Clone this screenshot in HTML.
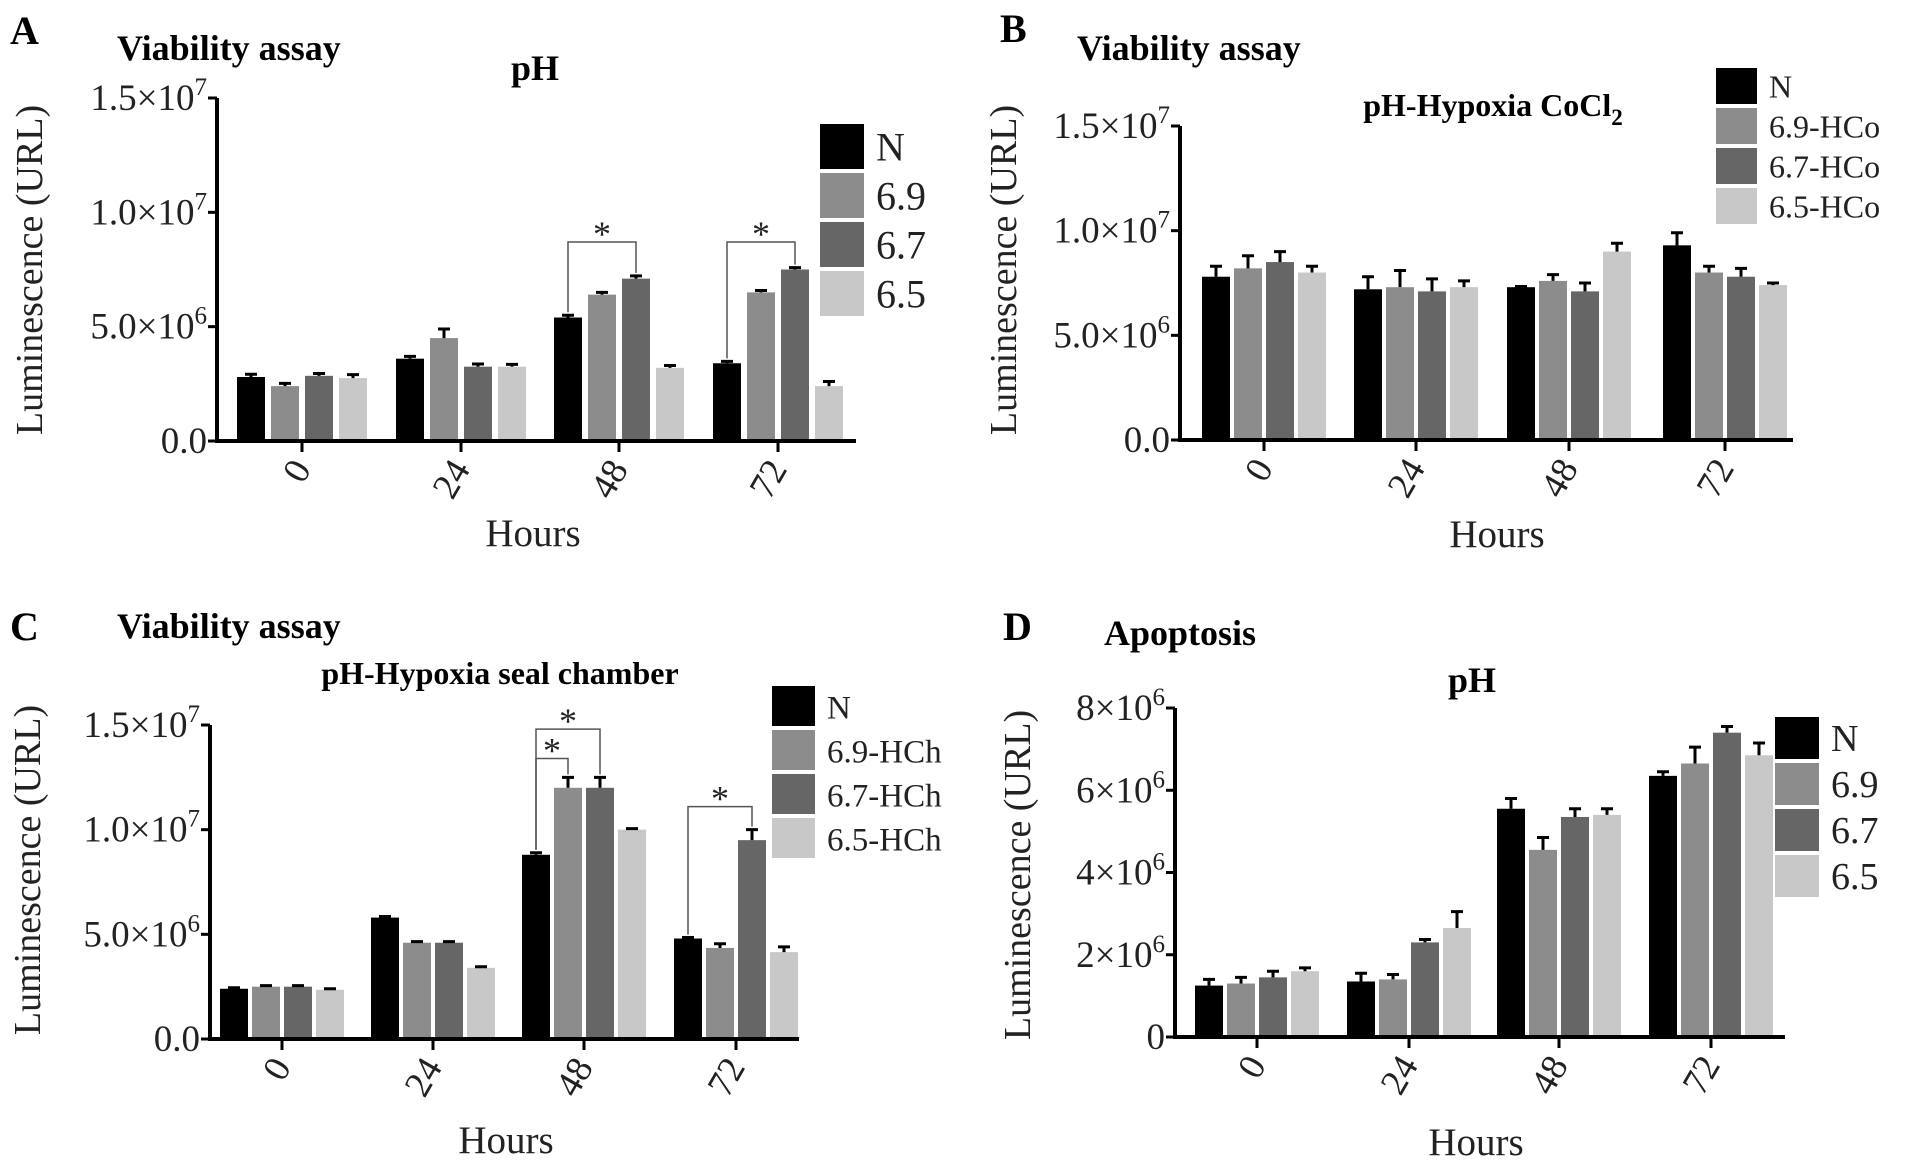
<!DOCTYPE html>
<html><head><meta charset="utf-8"><style>
html,body{margin:0;padding:0;background:#fff}
svg{display:block}
svg text{font-family:"Liberation Serif","DejaVu Serif",serif}
</style></head><body>
<svg id="fig" width="1913" height="1169" viewBox="0 0 1913 1169" xmlns="http://www.w3.org/2000/svg" font-family="Liberation Serif, serif"></svg>
<script>
const categories = ["0","24","48","72"];
const colors = ["#000000","#8c8c8c","#666666","#c8c8c8"];
// Panel A values (x1e6)
const aN=[2.8,3.6,5.4,3.4], a69=[2.4,4.5,6.4,6.5], a67=[2.85,3.25,7.1,7.5], a65=[2.75,3.25,3.2,2.4];
const aErr=[[0.12,0.1,0.1,0.08],[0.12,0.4,0.1,0.08],[0.1,0.12,0.12,0.08],[0.15,0.1,0.1,0.2]];
const aTicks=["0.0","5.0×10|6","1.0×10|7","1.5×10|7"], aTickVals=[0,5,10,15];
const aLegend=["N","6.9","6.7","6.5"];
// Panel B
const bN=[7.8,7.2,7.3,9.3], b69=[8.2,7.3,7.6,8.0], b67=[8.5,7.1,7.1,7.8], b65=[8.0,7.3,9.0,7.4];
const bErr=[[0.5,0.6,0.03,0.6],[0.6,0.8,0.3,0.3],[0.5,0.6,0.4,0.4],[0.3,0.3,0.4,0.1]];
const bTicks=["0.0","5.0×10|6","1.0×10|7","1.5×10|7"], bTickVals=[0,5,10,15];
const bLegend=["N","6.9-HCo","6.7-HCo","6.5-HCo"];
// Panel C
const cN=[2.4,5.8,8.8,4.8], c69=[2.5,4.6,12.0,4.35], c67=[2.5,4.6,12.0,9.5], c65=[2.35,3.4,10.0,4.15];
const cErr=[[0.05,0.05,0.1,0.05],[0.05,0.05,0.5,0.2],[0.05,0.05,0.5,0.5],[0.05,0.05,0.05,0.25]];
const cTicks=["0.0","5.0×10|6","1.0×10|7","1.5×10|7"], cTickVals=[0,5,10,15];
const cLegend=["N","6.9-HCh","6.7-HCh","6.5-HCh"];
// Panel D
const dN=[1.25,1.35,5.55,6.35], d69=[1.3,1.4,4.55,6.65], d67=[1.45,2.3,5.35,7.4], d65=[1.6,2.65,5.4,6.85];
const dErr=[[0.15,0.2,0.25,0.1],[0.15,0.12,0.3,0.4],[0.15,0.07,0.2,0.15],[0.08,0.4,0.15,0.3]];
const dTicks=["0","2×10|6","4×10|6","6×10|6","8×10|6"], dTickVals=[0,2,4,6,8];
const dLegend=["N","6.9","6.7","6.5"];
// significance brackets: [group, fromSeries, toSeries, level]
const aSig=[[2,0,2,8.7],[3,0,2,8.7]];
const cSig=[[2,0,1,13.4],[2,0,2,14.8],[3,0,2,11.1]];

const NS="http://www.w3.org/2000/svg";
const svg=document.getElementById('fig');
function mk(tag,attrs,parent,text){const e=document.createElementNS(NS,tag);for(const k in attrs)e.setAttribute(k,attrs[k]);if(tag==='text')e.setAttribute('font-family','Liberation Serif, serif');if(text!==undefined)e.textContent=text;(parent||svg).appendChild(e);return e;}

function panel(p){
  const g=mk('g',{});
  
  
  const y=v=>p.y0-(v/p.ymax)*(p.y0-p.ytop);
  const series=p.series;
  series.forEach((vals,s)=>{
    vals.forEach((v,i)=>{
      const cx=p.ticks[i]-1.5*p.step+s*p.step;
      const r=mk('rect',{x:cx-p.bw/2,y:y(v),width:p.bw,height:p.y0-y(v),fill:colors[s]},g);
      
      
      const e=p.err[s][i];
      const l=mk('path',{d:`M${cx} ${y(v)} V${y(v+e)} M${cx-6} ${y(v+e)} H${cx+6}`,stroke:'#000','stroke-width':3,fill:'none'},g);
      
      
    });
  });
  const ax=mk('path',{d:`M${p.x0} ${p.ytop} V${p.y0} H${p.xend}`,stroke:'#000','stroke-width':4,fill:'none'},g);
  
  
  p.tickVals.forEach((tv,k)=>{
    const ty=y(tv);
    mk('line',{x1:p.x0-9,x2:p.x0,y1:ty,y2:ty,stroke:'#000','stroke-width':3},g);
    const parts=p.tickLabels[k].split('|');
    const t=mk('text',{x:p.x0-10,y:ty+12,'text-anchor':'end','font-size':37,fill:'#222'},g);
    
    
    mk('tspan',{},t,parts[0]);
    if(parts[1]){mk('tspan',{dy:-15,'font-size':25},t,parts[1]);}
  });
  categories.forEach((c,i)=>{
    const tx=p.ticks[i];
    mk('line',{x1:tx,x2:tx,y1:p.y0,y2:p.y0+11,stroke:'#000','stroke-width':3},g);
    const t=mk('text',{x:tx+10,y:p.y0+28,'text-anchor':'end','font-size':37,fill:'#222',transform:`rotate(-60 ${tx+10} ${p.y0+28})`},g,c);
    
    
  });
  (p.sig||[]).forEach(sg=>{
    const [gi,a,b,lvl]=sg;
    const xa=p.ticks[gi]-1.5*p.step+a*p.step, xb=p.ticks[gi]-1.5*p.step+b*p.step;
    const ya=y(series[a][gi]+p.err[a][gi]), yb=y(series[b][gi]+p.err[b][gi]), yl=y(lvl);
    const br=mk('path',{d:`M${xa} ${ya-3} V${yl} H${xb} V${yb-3}`,stroke:'#555','stroke-width':1.5,fill:'none'},g);
    
    
    mk('text',{x:(xa+xb)/2,y:yl+4,'text-anchor':'middle','font-size':36,fill:'#222'},g,'*');
  });
  mk('text',{x:p.letter[0],y:p.letter[1],'font-size':40,'font-weight':'bold'},g,p.id.toUpperCase());
  const tt=mk('text',{x:p.title[0],y:p.title[1],'font-size':36,'font-weight':'bold'},g,p.titleText);
  
  const st=mk('text',{x:p.sub[0],y:p.sub[1],'font-size':p.subFont||36,'font-weight':'bold','text-anchor':'middle'},g);
  
  mk('tspan',{},st,p.subText);
  if(p.subSub){mk('tspan',{dy:9,'font-size':23},st,p.subSub);}
  const yl=mk('text',{x:p.ylab[0],y:p.ylab[1],'font-size':38,'text-anchor':'middle',fill:'#222',transform:`rotate(-90 ${p.ylab[0]} ${p.ylab[1]})`},g,'Luminescence (URL)');
  
  const xl=mk('text',{x:p.xlab[0],y:p.xlab[1],'font-size':39,'text-anchor':'middle',fill:'#222'},g,'Hours');
  
  p.legend.forEach((lab,s)=>{
    const ly=p.leg[1]+s*p.leg[3];
    const r=mk('rect',{x:p.leg[0],y:ly,width:p.leg[2],height:p.leg[3]-4,fill:colors[s]},g);
    
    const t=mk('text',{x:p.leg[0]+p.leg[2]+12,y:ly+p.leg[3]*0.74,'font-size':p.legFont,fill:'#222'},g,lab);
    
  });
}

panel({id:'a',series:[aN,a69,a67,a65],err:aErr,tickLabels:aTicks,tickVals:aTickVals,legend:aLegend,sig:aSig,
  x0:217,xend:856,y0:441,ytop:98,ymax:15,ticks:[302,461,619,778],bw:28,step:34,
  letter:[10,44],title:[117,60],titleText:'Viability assay',sub:[535,80],subText:'pH',
  ylab:[42,270],xlab:[533,546],leg:[820,124,44,49],legFont:40});
panel({id:'b',series:[bN,b69,b67,b65],err:bErr,tickLabels:bTicks,tickVals:bTickVals,legend:bLegend,
  x0:1180,xend:1793,y0:440,ytop:126,ymax:15,ticks:[1264,1416,1569,1725],bw:28,step:32,
  letter:[1000,42],title:[1077,60],titleText:'Viability assay',sub:[1493,116],subText:'pH-Hypoxia  CoCl',subSub:'2',subFont:32,
  ylab:[1016,270],xlab:[1497,547],leg:[1716,68,41,40],legFont:32});
panel({id:'c',series:[cN,c69,c67,c65],err:cErr,tickLabels:cTicks,tickVals:cTickVals,legend:cLegend,sig:cSig,
  x0:210,xend:799,y0:1039,ytop:725,ymax:15,ticks:[282,433,584,736],bw:28,step:32,
  letter:[10,640],title:[117,638],titleText:'Viability assay',sub:[500,684],subText:'pH-Hypoxia seal chamber',subFont:32,
  ylab:[40,870],xlab:[506,1153],leg:[772,686,43,44],legFont:33});
panel({id:'d',series:[dN,d69,d67,d65],err:dErr,tickLabels:dTicks,tickVals:dTickVals,legend:dLegend,
  x0:1175,xend:1785,y0:1037,ytop:708,ymax:8,ticks:[1257,1409,1559,1711],bw:28,step:32,
  letter:[1003,640],title:[1104,645],titleText:'Apoptosis',sub:[1472,692],subText:'pH',
  ylab:[1030,875],xlab:[1476,1155],leg:[1775,717,44,46],legFont:38});
</script>
</body></html>
